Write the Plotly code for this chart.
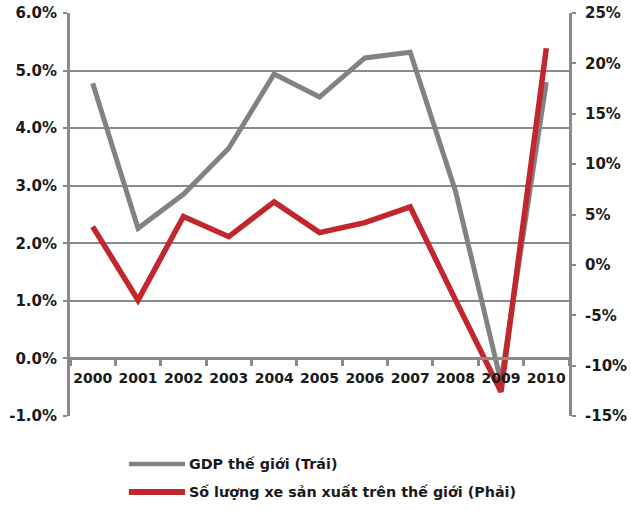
import plotly.graph_objects as go

years = ["2000", "2001", "2002", "2003", "2004", "2005", "2006", "2007", "2008", "2009", "2010"]
gdp = [4.78, 2.26, 2.85, 3.65, 4.94, 4.54, 5.22, 5.32, 2.9, -0.4, 4.8]
cars = [3.8, -3.5, 4.8, 2.8, 6.25, 3.2, 4.2, 5.75, -3.5, -12.6, 21.5]

left_ticks = [-1, 0, 1, 2, 3, 4, 5, 6]
left_labels = ["-1.0%", "0.0%", "1.0%", "2.0%", "3.0%", "4.0%", "5.0%", "6.0%"]
right_ticks = [-15, -10, -5, 0, 5, 10, 15, 20, 25]
right_labels = ["-15%", "-10%", "-5%", "0%", "5%", "10%", "15%", "20%", "25%"]

gdp_name = "GDP thế giới (Trái)"
cars_name = "Số lượng xe sản xuất trên thế giới (Phải)"

GRAY = "#828282"
RED = "#C1272D"
AX = "#8a8a8a"
FAM = "DejaVu Sans"
YFONT = dict(family=FAM, size=15, color="#1a1a1a", weight="bold")
XFONT = dict(family=FAM, size=14, color="#1a1a1a", weight="bold")
LFONT = dict(family=FAM, size=14.3, color="#1a1a1a", weight="bold")

fig = go.Figure()
fig.add_trace(go.Scatter(x=years, y=gdp, name=gdp_name, mode="lines",
                         line=dict(color=GRAY, width=5), yaxis="y"))
fig.add_trace(go.Scatter(x=years, y=cars, name=cars_name, mode="lines",
                         line=dict(color=RED, width=5.5), yaxis="y2"))

# legend drawn below the plot (plot area: 499 x 403 px)
legend_items = [(gdp_name, GRAY, 4.5, -0.1191), (cars_name, RED, 6, -0.1886)]
for name, color, w, ly in legend_items:
    fig.add_shape(type="line", xref="paper", yref="paper", x0=0.118, x1=0.2305, y0=ly, y1=ly,
                  line=dict(color=color, width=w))
    fig.add_annotation(xref="paper", yref="paper", x=0.2345, y=ly, text=name, showarrow=False,
                       xanchor="left", yanchor="middle", font=LFONT)

fig.update_layout(
    width=631, height=510,
    margin=dict(l=70, r=62, t=13, b=94),
    paper_bgcolor="white", plot_bgcolor="white",
    font=YFONT,
    showlegend=False,
    xaxis=dict(type="category", range=[-0.5, 10.5], anchor="free", position=1 / 7,
               showline=True, linecolor=AX, linewidth=3, ticks="outside", tickson="boundaries",
               ticklen=6, tickwidth=3, tickcolor=AX, showgrid=False, tickfont=XFONT,
               tickangle=0, ticklabelstandoff=6, automargin=False),
    yaxis=dict(range=[-1, 6], tickvals=left_ticks, ticktext=left_labels, showgrid=True,
               gridcolor=AX, gridwidth=2, zeroline=True, zerolinecolor=AX, zerolinewidth=2,
               showline=True, linecolor=AX, linewidth=3, ticks="outside", ticklen=4,
               tickwidth=2, tickcolor=AX, tickfont=YFONT, ticklabelstandoff=3,
               automargin=False),
    yaxis2=dict(range=[-15, 25], tickvals=right_ticks, ticktext=right_labels, overlaying="y",
                side="right", showgrid=False, zeroline=False, showline=True, linecolor=AX,
                linewidth=3, ticks="outside", ticklen=4, tickwidth=2, tickcolor=AX,
                tickfont=YFONT, ticklabelstandoff=6, automargin=False),
)

fig.write_html("out.html")
